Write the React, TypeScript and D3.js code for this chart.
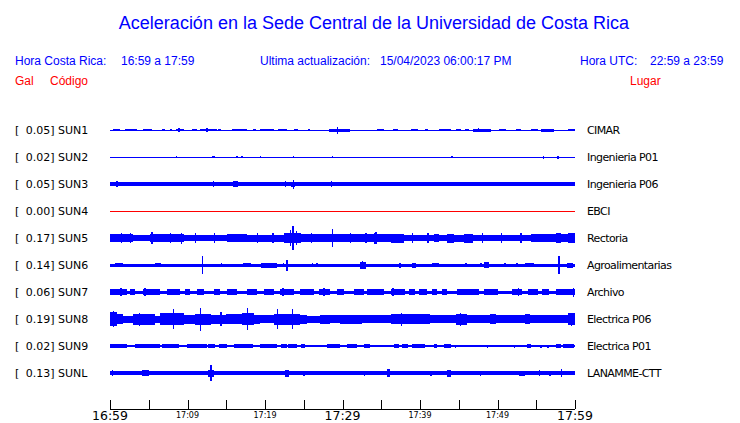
import React from "react";
import * as d3 from "d3";

// ---------- DATA ----------
const title = "Aceleración en la Sede Central de la Universidad de Costa Rica";
const localRange = "16:59 a 17:59";
const utcRange = "22:59 a 23:59";
const updated = "15/04/2023 06:00:17 PM";

const stations = ["SUN1", "SUN2", "SUN3", "SUN4", "SUN5", "SUN6", "SUN7", "SUN8", "SUN9", "SUNL"];
const places = ["CIMAR", "Ingenieria P01", "Ingenieria P06", "EBCI", "Rectoria", "Agroalimentarias", "Archivo", "Electrica P06", "Electrica P01", "LANAMME-CTT"];
const peaks = [0.05, 0.02, 0.05, 0.0, 0.17, 0.14, 0.06, 0.19, 0.02, 0.13];
const traceColors = ["#0000ff", "#0000ff", "#0000ff", "#ff0000", "#0000ff", "#0000ff", "#0000ff", "#0000ff", "#0000ff", "#0000ff"];

// minutes after 16:59
const tickMinutes = [0, 5, 10, 15, 20, 25, 30, 35, 40, 45, 50, 55, 60];
const bigLabels: [number, string][] = [[0, "16:59"], [30, "17:29"], [60, "17:59"]];
const smallLabels: [number, string][] = [[10, "17:09"], [20, "17:19"], [40, "17:39"], [50, "17:49"]];

// core half-thickness of each trace (relative amplitude units)
const cores = [0.5, 0.5, 1.7, 0.5, 2.6, 1.5, 1.5, 2.6, 0.8, 1.7];

// bursts: [startMinute, endMinute, halfAmplitude]
const bursts1 = [[0.4, 1.3, 1.4], [1.9, 3.5, 1.4], [4.3, 5.4, 1.4], [6.7, 7.1, 1.3], [7.7, 8.0, 1.3], [8.5, 9.5, 1.4], [10.6, 11.2, 1.3], [11.6, 13.8, 1.4], [13.9, 14.3, 1.3], [15.8, 17.7, 1.4], [18.5, 18.9, 1.3], [19.4, 21.1, 1.4], [21.7, 22.9, 1.4], [23.8, 24.2, 1.3], [25.5, 25.8, 1.3], [28.2, 31, 1.5], [34.5, 35.3, 1.4], [36.5, 37.1, 1.4], [38.8, 39.7, 1.4], [40.7, 41, 1.3], [42.4, 44, 1.4], [44.6, 45.3, 1.4], [45.8, 46.3, 1.4], [46.9, 49.1, 1.5], [50.2, 51.1, 1.4], [52.4, 53, 1.4], [54.3, 55.2, 1.4], [55.6, 57.3, 1.5], [59.1, 60, 1.4]];
const bursts2 = [[13.2, 13.6, 1.4], [16.2, 16.5, 1.3], [16.9, 17.2, 1]];
const bursts3 = [[15.9, 16.5, 2.6], [23.4, 23.9, 2.5]];
const bursts4: number[][] = [];
const bursts5 = [[0, 3, 4.0], [3, 5.2, 3.2], [5.2, 9.5, 4.3], [9.5, 15.1, 3.4], [15.1, 17.7, 4], [17.7, 22.4, 3.5], [22.4, 24.6, 4.8], [24.6, 28.4, 3.6], [28.4, 34, 3.7], [34, 34.5, 5.5], [34.5, 36.2, 3.7], [36.2, 37.9, 4.5], [37.9, 41.8, 3.2], [41.8, 42.4, 4], [42.4, 43.5, 3.2], [43.5, 44.4, 4.5], [44.4, 45.7, 3.5], [45.7, 46.8, 4.5], [46.8, 54.3, 3.2], [54.3, 55.6, 3.6], [55.6, 57.5, 4], [57.5, 58.2, 4.6], [58.2, 59.1, 4], [59.1, 60, 4.6]];
const bursts6 = [[0.6, 1.7, 2.2], [5.8, 6.6, 2.2], [14.3, 14.5, 2.3], [17.1, 18.2, 2.2], [19.5, 21.5, 2.5], [22.3, 22.5, 2.3], [26, 26.2, 2.2], [26.6, 26.8, 2.2], [32.3, 33, 3.5], [37.3, 37.5, 2.5], [39, 39.5, 2.5], [41.5, 42.4, 2], [45.8, 46, 2.2], [47.8, 48, 2.2], [48.3, 48.9, 3.3], [50.9, 51.1, 2.2], [52.4, 52.6, 2.2], [53.5, 54.7, 2.3], [59, 59.8, 2.5]];
const bursts7 = [[0, 2.16, 2.9], [2.59, 3.23, 2.8], [4.31, 6.47, 2.9], [7.33, 9.05, 2.9], [9.7, 10.35, 2.8], [11.21, 12.07, 2.8], [13.36, 14.22, 2.9], [15.09, 16.38, 2.9], [17.67, 18.96, 2.9], [19.83, 21.12, 2.8], [21.98, 23.71, 3], [24.57, 26.29, 2.9], [26.94, 28.45, 2.9], [29.31, 30.17, 2.8], [31.47, 32.76, 2.9], [33.19, 35.35, 2.9], [36.21, 38.1, 3], [38.6, 39.4, 2.8], [39.9, 40.9, 2.9], [41.6, 42.2, 2.8], [42.9, 43.5, 2.8], [44.8, 47.6, 3], [48.3, 50, 2.9], [51.9, 53.2, 3], [53.9, 55.2, 2.9], [55.8, 56.7, 2.8], [57.6, 60, 3]];
const bursts8 = [[0, 0.9, 7], [0.9, 1.7, 5], [1.7, 3, 3.5], [3, 5.8, 5.5], [5.8, 6.5, 3.5], [6.5, 9.5, 5.8], [9.5, 11, 4.5], [11, 13, 5.5], [13, 15, 4.5], [15, 17, 5], [17, 18.6, 6], [18.6, 19.4, 4.5], [19.4, 21.1, 4], [21.1, 24.5, 5.5], [24.5, 25.4, 4.5], [25.4, 27.1, 3.5], [27.1, 28.4, 4.5], [28.4, 29.7, 4], [29.7, 32.5, 4.5], [32.5, 36.2, 3.8], [36.2, 41.3, 5], [41.3, 44.7, 3.6], [44.7, 46.1, 5.5], [46.1, 49, 3.6], [49, 49.8, 4.6], [49.8, 53.5, 3.6], [53.5, 54.2, 4.6], [54.2, 59.1, 3.7], [59.1, 60, 6]];
const bursts9 = [[0, 2.16, 1.8], [3.23, 6.47, 1.8], [6.68, 8.84, 1.8], [9.9, 12.5, 1.8], [12.7, 13.6, 1.7], [14, 15.1, 1.7], [16, 18.5, 1.8], [19.4, 21.6, 1.7], [22, 22.8, 1.7], [23, 24.1, 1.7], [24.6, 25.2, 1.6], [28, 29.7, 1.7], [30.6, 31.9, 1.6], [32.8, 33.6, 1.6], [36.6, 37.3, 1.6], [37.7, 38.4, 1.6], [39, 40.7, 1.7], [41.8, 42.2, 1.6], [43.1, 44, 1.6], [44.5, 44.7, 1.5], [48.6, 48.8, 1.5], [52.1, 52.3, 1.5], [53.8, 54.3, 1.6], [55.5, 55.7, 1.5], [56.4, 56.6, 1.5], [57.5, 58.2, 1.6], [58.5, 59.9, 1.6]];
const burstsL = [[4.1, 5.0, 3.3], [12.7, 13.4, 3.5], [22.6, 23.1, 3.5], [35.8, 36.1, 4], [43.5, 44, 3.5], [52.8, 53.5, 2.5], [56.7, 56.9, 2.5]];

// spikes: [minute, halfAmplitude]
const spikes1 = [[29.3, 3.5], [8.9, 2], [12.5, 2], [47.5, 2]];
const spikes2 = [[8.6, 1.2], [19.4, 1.2], [23.7, 1.4], [28.7, 1.4], [44.1, 1.2], [55.9, 1.5], [57.8, 1.5]];
const spikes3 = [[0.9, 3], [13.3, 3], [16.1, 3], [16.4, 3], [22.6, 3], [23.7, 4.5], [28.6, 2.6], [50, 2.1], [55.9, 2.3], [56.9, 2.2]];
const spikes4: number[][] = [];
const spikes5 = [[5.4, 6], [7.8, 5], [9.2, 5.5], [23.6, 11.7], [23.3, 8], [24, 7], [28.7, 9.3], [34.3, 6], [1.5, 5], [2.6, 4.8], [11, 4.6], [13.5, 4.8], [19, 5], [21, 4.7], [26, 4.8], [31, 5], [33, 4.8], [39, 4.8], [41, 4.6], [48, 4.7], [50.5, 4.6], [53, 4.7]];
const spikes6 = [[11.9, 9], [22.8, 5.5], [32.6, 4.2], [57.9, 9]];
const spikes7 = [[1.4, 4], [27.6, 4], [36.5, 4.3], [52.7, 4.3], [59.8, 4.5], [22.3, 3.8], [4.5, 3.6]];
const spikes8 = [[0.4, 8.3], [8.2, 10], [11.7, 11.5], [17.7, 11], [21.6, 10], [23.5, 10], [37.6, 6.5], [45.2, 6.5], [59.5, 6.5], [14.3, 7], [3.8, 6.5]];
const spikes9 = [[17.2, 2.4]];
const spikesL = [[0.3, 2.7], [11.6, 2.3], [13, 8.3], [15.7, 2], [17.2, 2], [17.9, 2], [18.7, 2], [20.3, 2.2], [20.9, 2.2], [25, 2.5], [26.5, 2.2], [27.2, 2.2], [32.8, 2.5], [39.2, 2.3], [41.4, 2.5], [42.5, 2.2], [45, 2], [47.8, 2.5], [55.4, 3], [58.2, 4.3]];

const allBursts = [bursts1, bursts2, bursts3, bursts4, bursts5, bursts6, bursts7, bursts8, bursts9, burstsL];
const allSpikes = [spikes1, spikes2, spikes3, spikes4, spikes5, spikes6, spikes7, spikes8, spikes9, spikesL];

// ---------- CHART ----------
const W = 740;
const H = 423;
const BLUE = "#0000ff";
const RED = "#ff0000";
const HEAD_FONT = "'Liberation Sans', Arial, Helvetica, sans-serif";
const LABEL_FONT = "'DejaVu Sans', sans-serif";

export default function App() {
  const x = d3.scaleLinear().domain([0, 60]).range([110, 575]);
  const y = d3.scalePoint<string>().domain(stations).range([130, 373]);
  const amp = d3.scaleLinear().domain([0, 13.5]).range([0, 13.5]);
  const fmt = d3.format(".2f");

  return (
    <svg width={W} height={H} style={{ position: "absolute", left: 0, top: 0, background: "#fff" }}>
      <text x={374} y={29} textAnchor="middle" fill={BLUE} fontFamily={HEAD_FONT} fontSize={18}>{title}</text>

      <g fontFamily={HEAD_FONT} fontSize={12} fill={BLUE}>
        <text x={15} y={65}>Hora Costa Rica:</text>
        <text x={121} y={65}>{localRange}</text>
        <text x={260} y={65}>Ultima actualización:</text>
        <text x={380} y={65}>{updated}</text>
        <text x={580} y={65}>Hora UTC:</text>
        <text x={650} y={65}>{utcRange}</text>
      </g>
      <g fontFamily={HEAD_FONT} fontSize={12} fill={RED}>
        <text x={15} y={85}>Gal</text>
        <text x={50} y={85}>Código</text>
        <text x={630} y={85}>Lugar</text>
      </g>

      {stations.map((s, i) => {
        const cy = y(s) as number;
        const col = traceColors[i];
        return (
          <g key={s}>
            <g fontFamily={LABEL_FONT} fontSize={11} fill="#000">
              <text x={15} y={cy + 4}>[</text>
              <text x={54.5} y={cy + 4} textAnchor="end">{fmt(peaks[i]) + "]"}</text>
              <text x={58} y={cy + 4}>{s}</text>
              <text x={587} y={cy + 4} letterSpacing={-0.6}>{places[i]}</text>
            </g>
            <g fill={col} shapeRendering="crispEdges">
              <rect x={x(0)} y={cy - amp(cores[i])} width={x(60) - x(0)} height={Math.max(1, 2 * amp(cores[i]))} />
              {allBursts[i].map((b, j) => (
                <rect key={"b" + j} x={x(b[0])} y={cy - amp(b[2])} width={Math.max(1, x(b[1]) - x(b[0]))} height={2 * amp(b[2])} />
              ))}
              {allSpikes[i].map((p, j) => (
                <rect key={"s" + j} x={x(p[0]) - 0.5} y={cy - amp(p[1])} width={1.3} height={2 * amp(p[1])} />
              ))}
            </g>
          </g>
        );
      })}

      <g stroke="#000" strokeWidth={1} shapeRendering="crispEdges">
        <line x1={x(0)} x2={x(60)} y1={409} y2={409} />
        {tickMinutes.map((t) => (
          <line key={t} x1={Math.round(x(t)) + 0.5} x2={Math.round(x(t)) + 0.5} y1={400} y2={409} />
        ))}
      </g>
      <g fontFamily={LABEL_FONT} fill="#000" textAnchor="middle">
        {bigLabels.map(([t, l]) => (
          <text key={l} x={x(t)} y={420} fontSize={12.5}>{l}</text>
        ))}
        {smallLabels.map(([t, l]) => (
          <text key={l} x={x(t)} y={418} fontSize={8}>{l}</text>
        ))}
      </g>
    </svg>
  );
}
